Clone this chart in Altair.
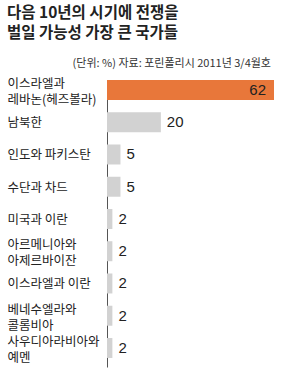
import altair as alt
import pandas as pd

title_lines = ["다음 10년의 시기에 전쟁을", "벌일 가능성 가장 큰 국가들"]
subtitle = "(단위: %) 자료: 포린폴리시 2011년 3/4월호"
countries = [
    "이스라엘과\n레바논(헤즈볼라)",
    "남북한",
    "인도와 파키스탄",
    "수단과 차드",
    "미국과 이란",
    "아르메니아와\n아제르바이잔",
    "이스라엘과 이란",
    "베네수엘라와\n콜롬비아",
    "사우디아라비아와\n예멘",
]
values = [62, 20, 5, 5, 2, 2, 2, 2, 2]

df = pd.DataFrame({"country": countries, "value": values})
one = pd.DataFrame({"k": [0]})

FONT = "Noto Sans CJK KR"
ORANGE = "#E8773A"
GRAY = "#D2D2D2"

y = alt.Y(
    "country:N",
    sort=countries,
    scale=alt.Scale(paddingInner=0.38, paddingOuter=0.14, align=0),
    axis=alt.Axis(
        title=None,
        ticks=False,
        labelAlign="left",
        labelBaseline="middle",
        labelPadding=100,
        labelFontSize=12.5,
        labelFont=FONT,
        labelColor="#222222",
        labelLineHeight=16,
        labelLimit=200,
        labelOffset={"condition": {"test": "indexof(datum.value, '\\n') >= 0", "value": -6}, "value": 1},
        labelExpr="split(datum.label, '\\n')",
        domainColor="#555555",
        domainWidth=1,
        grid=False,
    ),
)
x = alt.X("value:Q", scale=alt.Scale(domain=[0, 62], nice=False), axis=None)

base = alt.Chart(df)

bars = base.mark_bar().encode(
    x=x,
    y=y,
    color=alt.condition(alt.datum.value > 50, alt.value(ORANGE), alt.value(GRAY)),
)

inside = base.transform_filter(alt.datum.value > 50).mark_text(
    align="right", baseline="middle", dx=-8, fontSize=15, font="Liberation Sans", color="#222222"
).encode(x=x, y=y, text="value:Q")

outside = base.transform_filter(alt.datum.value <= 50).mark_text(
    align="left", baseline="middle", dx=6, fontSize=15, font="Liberation Sans", color="#222222"
).encode(x=x, y=y, text="value:Q")

title = alt.Chart(one).mark_text(
    align="left", baseline="middle", fontSize=15.5, fontWeight="bold", font=FONT,
    color="#222222", lineHeight=20,
).encode(x=alt.value(-100), y=alt.value(-67), text=alt.value(title_lines))

sub = alt.Chart(one).mark_text(
    align="right", baseline="middle", fontSize=11, font=FONT, color="#333333",
).encode(x=alt.value(164), y=alt.value(-16), text=alt.value(subtitle))

chart = alt.layer(bars, inside, outside, title, sub).properties(
    width=167,
    height=287,
    autosize=alt.AutoSizeParams(type="none"),
    padding={"left": 107, "top": 80, "right": 16, "bottom": 7},
    background="white",
).configure_view(stroke=None)

chart.save("out.html", embed_options={"renderer": "svg", "actions": False})
